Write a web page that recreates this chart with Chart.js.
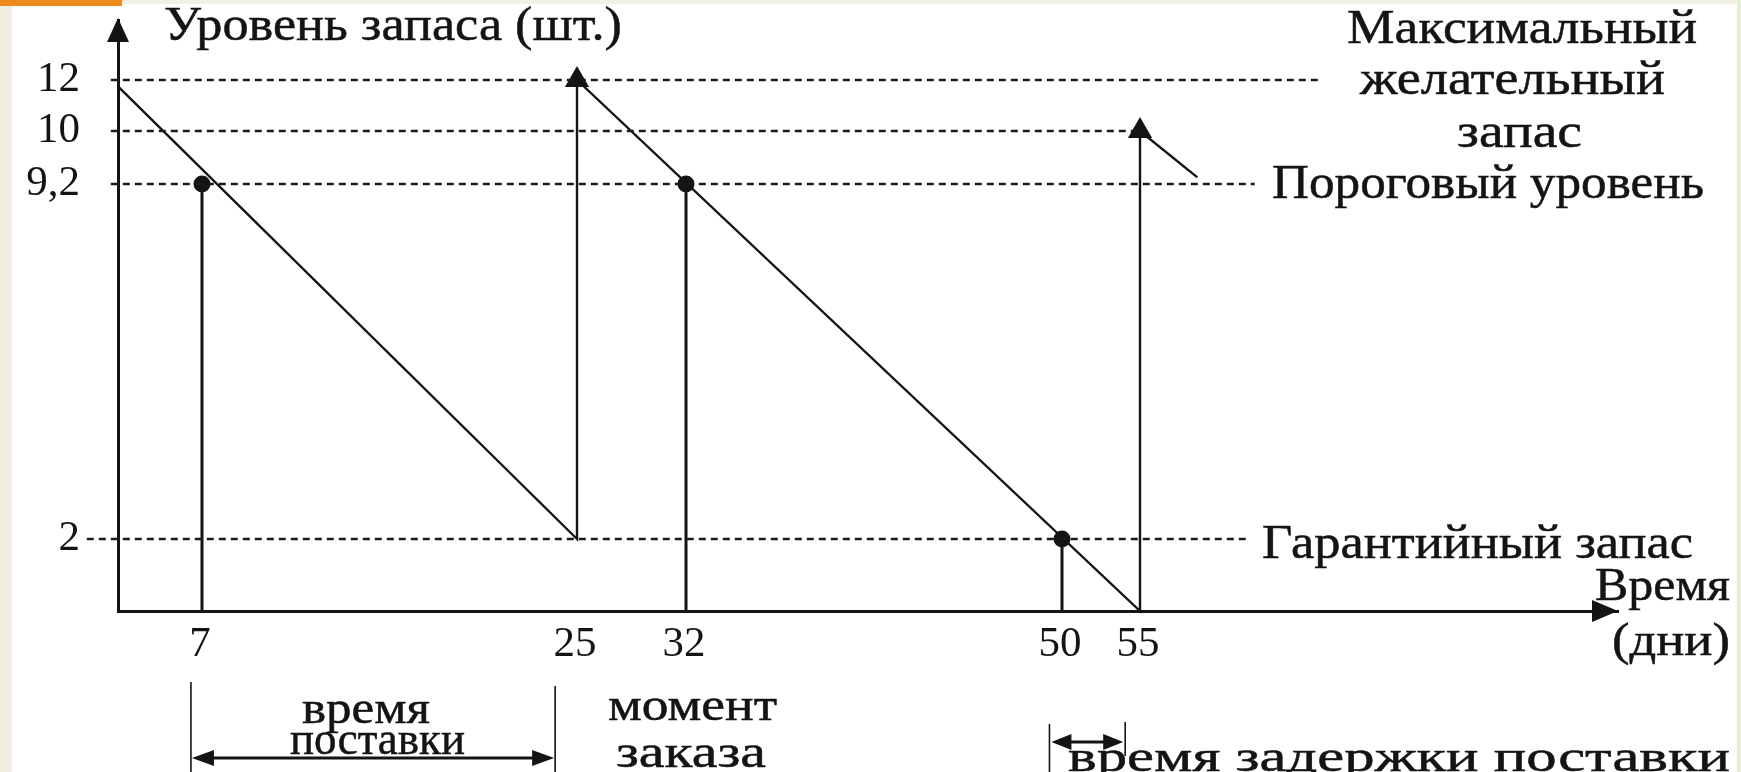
<!DOCTYPE html>
<html><head><meta charset="utf-8">
<script src="https://cdn.jsdelivr.net/npm/chart.js@4.4.1/dist/chart.umd.min.js"></script>
<style>html,body{margin:0;padding:0;background:#fff;overflow:hidden}canvas{display:block}</style>
</head><body>
<canvas id="c" width="1741" height="772"></canvas>
<script>
// ---------------- data ----------------
const xTicks = [7, 25, 32, 50, 55];
const xTickLabels = ['7', '25', '32', '50', '55'];
const yTicks = [2, 9.2, 10, 12];
const yTickLabels = ['2', '9,2', '10', '12'];

// inventory level over time (day, pieces)
const stockDays   = [0, 25, 25, 55, 55, 57.4];
const stockLevels = [11.75, 2, 12, 0, 10, 9.3];

// delivery moments (arrow heads)
const deliveryDays   = [25, 55];
const deliveryLevels = [12, 10];

// marked moments (dots with drop lines)
const markDays   = [7, 32, 50];
const markLevels = [9.2, 9.2, 2];

// reference levels (dashed lines) and their extent in days
const refLevels   = [12, 10, 9.2, 2];
const refFromDays = [-0.6, -0.6, -0.6, -2.6];
const refToDays   = [62.6, 55, 59.8, 59.6];

// spans drawn under the time axis (days)
const leadSpan  = [6.08, 23.95];
const delaySpan = [49.4, 54.05];

// texts
const yTitle = 'Уровень запаса (шт.)';
const xTitle = ['Время', '(дни)'];
const levelNames = ['Максимальный', 'желательный', 'запас', 'Пороговый уровень', 'Гарантийный запас'];
const spanNames = ['время', 'поставки', 'момент', 'заказа', 'время задержки поставки'];

// ---------------- layout (not data) ----------------
// the drawing is not to scale: axis positions of the tick values
const AXIS_WARP = {
  x: { v: [0, 7, 25, 32, 50, 55, 75], p: [0, 84, 459, 568, 944, 1022, 1500] },
  y: { v: [0, 2, 9.2, 10, 12, 14.35], p: [0, 72, 427, 480, 531, 591] }
};
const TEXT_LAYOUT = [
  // text, left, centerY, size, width
  [yTitle, 164, 27, 48, 458],
  [levelNames[0], 1347, 30, 48, 350],
  [levelNames[1], 1360, 81, 48, 305],
  [levelNames[2], 1457, 134, 48, 125],
  [levelNames[3], 1272, 185, 48, 432],
  [levelNames[4], 1262, 545, 48, 431],
  [xTitle[0], 1595, 588, 46, 135],
  [xTitle[1], 1612, 643, 46, 118],
  [spanNames[0], 302, 711, 46, 128],
  [spanNames[1], 290, 742, 46, 175],
  [spanNames[2], 608, 708, 46, 169],
  [spanNames[3], 616, 755, 46, 150],
  [spanNames[4], 1068, 759, 44, 662]
];
const INK = '#141414';

function warp(axis, v) {
  const w = AXIS_WARP[axis], a = w.v, b = w.p, n = a.length;
  let i = 0;
  if (v <= a[0]) i = 0;
  else if (v >= a[n - 1]) i = n - 2;
  else { while (i < n - 2 && v > a[i + 1]) i++; }
  return b[i] + (v - a[i]) * (b[i + 1] - b[i]) / (a[i + 1] - a[i]);
}
function unwarp(axis, p) {
  const w = AXIS_WARP[axis], a = w.p, b = w.v, n = a.length;
  let i = 0;
  if (p <= a[0]) i = 0;
  else if (p >= a[n - 1]) i = n - 2;
  else { while (i < n - 2 && p > a[i + 1]) i++; }
  return b[i] + (p - a[i]) * (b[i + 1] - b[i]) / (a[i + 1] - a[i]);
}

class WarpScale extends Chart.LinearScale {
  getPixelForValue(value) { return super.getPixelForValue(warp(this.axis, value)); }
  getValueForPixel(pixel) { return unwarp(this.axis, super.getValueForPixel(pixel)); }
}
WarpScale.id = 'warp';
WarpScale.defaults = Chart.LinearScale.defaults;
Chart.register(WarpScale);

const pts = (xs, ys) => xs.map((x, i) => ({ x, y: ys[i] }));

const datasets = [];
refLevels.forEach((lv, i) => datasets.push({
  data: [{ x: refFromDays[i], y: lv }, { x: refToDays[i], y: lv }],
  showLine: true, borderColor: '#1a1a1a', borderWidth: 2.6, borderDash: [7, 5],
  pointRadius: 0, clip: false
}));
datasets.push({
  data: pts(stockDays, stockLevels), showLine: true, borderColor: INK, borderWidth: 2.4,
  pointRadius: 0, clip: false
});
markDays.forEach((d, i) => datasets.push({
  data: [{ x: d, y: 0 }, { x: d, y: markLevels[i] }], showLine: true,
  borderColor: INK, borderWidth: 3, pointRadius: 0, clip: false
}));
datasets.push({
  data: pts(markDays, markLevels), showLine: false, pointStyle: 'circle',
  pointRadius: 8.5, backgroundColor: INK, borderColor: INK, borderWidth: 0, clip: false
});
datasets.push({
  data: pts(deliveryDays, deliveryLevels), showLine: false, pointStyle: 'triangle',
  pointRadius: 14, backgroundColor: INK, borderColor: INK, borderWidth: 0, clip: false
});

function filledArrow(ctx, tipX, tipY, dirX, dirY, len, half) {
  const bx = tipX - dirX * len, by = tipY - dirY * len;
  const nx = -dirY, ny = dirX;
  ctx.beginPath();
  ctx.moveTo(tipX, tipY);
  ctx.lineTo(bx + nx * half, by + ny * half);
  ctx.lineTo(bx - nx * half, by - ny * half);
  ctx.closePath();
  ctx.fill();
}

function drawStretched(ctx, text, left, cy, size, width) {
  ctx.font = size + 'px "Liberation Serif", "Times New Roman", serif';
  const w = ctx.measureText(text).width;
  ctx.save();
  ctx.translate(left, cy);
  ctx.scale(width / w, 1);
  ctx.textBaseline = 'middle';
  ctx.textAlign = 'left';
  ctx.fillStyle = INK;
  ctx.strokeStyle = INK;
  ctx.lineWidth = 0.5;
  ctx.fillText(text, 0, 0);
  ctx.strokeText(text, 0, 0);
  ctx.restore();
}

const decor = {
  id: 'decor',
  beforeDraw(chart) {
    const ctx = chart.ctx, W = chart.width, H = chart.height;
    ctx.save();
    ctx.fillStyle = '#ffffff'; ctx.fillRect(0, 0, W, H);
    ctx.fillStyle = '#f3f1e4'; ctx.fillRect(0, 0, W, 4);
    ctx.fillStyle = '#eeede0'; ctx.fillRect(0, 0, 12, H);
    ctx.fillStyle = '#e6eed8'; ctx.fillRect(W - 4, 0, 4, H);
    ctx.fillStyle = '#ec8a1e'; ctx.fillRect(0, 0, 122, 6);
    ctx.restore();
  },
  afterDraw(chart) {
    const ctx = chart.ctx, a = chart.chartArea, xs = chart.scales.x;
    ctx.save();
    ctx.fillStyle = INK; ctx.strokeStyle = INK;
    // axis arrow heads
    filledArrow(ctx, a.left, a.top - 2, 0, -1, 24, 11);
    filledArrow(ctx, a.right, a.bottom, 1, 0, 26, 11);
    // lead time span
    const l0 = xs.getPixelForValue(leadSpan[0]), l1 = xs.getPixelForValue(leadSpan[1]);
    ctx.lineWidth = 1.6;
    ctx.beginPath(); ctx.moveTo(l0, 682); ctx.lineTo(l0, 772); ctx.moveTo(l1, 686); ctx.lineTo(l1, 772); ctx.stroke();
    ctx.lineWidth = 3;
    ctx.beginPath(); ctx.moveTo(l0 + 10, 758); ctx.lineTo(l1 - 10, 758); ctx.stroke();
    filledArrow(ctx, l0 + 1, 758, -1, 0, 22, 8);
    filledArrow(ctx, l1 - 1, 758, 1, 0, 22, 8);
    // delay span
    const d0 = xs.getPixelForValue(delaySpan[0]), d1 = xs.getPixelForValue(delaySpan[1]);
    ctx.lineWidth = 1.6;
    ctx.beginPath(); ctx.moveTo(d0, 724); ctx.lineTo(d0, 772); ctx.moveTo(d1, 722); ctx.lineTo(d1, 756); ctx.stroke();
    ctx.lineWidth = 3;
    ctx.beginPath(); ctx.moveTo(d0 + 10, 742); ctx.lineTo(d1 - 10, 742); ctx.stroke();
    filledArrow(ctx, d0 + 2, 742, -1, 0, 20, 8);
    filledArrow(ctx, d1 - 2, 742, 1, 0, 20, 8);
    ctx.restore();
    TEXT_LAYOUT.forEach(t => drawStretched(ctx, t[0], t[1], t[2], t[3], t[4]));
  }
};

const tickFont = { family: '"Liberation Serif", "Times New Roman", serif', size: 43, lineHeight: 1.2 };
const noPad = s => { s.paddingTop = 0; s.paddingBottom = 0; s.paddingLeft = 0; s.paddingRight = 0; };

new Chart(document.getElementById('c'), {
  type: 'scatter',
  data: { datasets },
  options: {
    responsive: false, animation: false, events: [], devicePixelRatio: 1,
    layout: { padding: { top: 20, right: 123, left: 0, bottom: 0 } },
    plugins: { legend: { display: false }, tooltip: { enabled: false }, title: { display: false } },
    scales: {
      x: {
        type: 'warp', position: 'bottom', min: 0, max: 1500,
        afterFit: s => { s.height = 161; noPad(s); },
        afterBuildTicks: s => { s.ticks = xTicks.map(v => ({ value: v })); },
        grid: { display: true, drawOnChartArea: false, drawTicks: false, color: 'rgba(0,0,0,0)' },
        border: { display: true, color: INK, width: 3 },
        ticks: { autoSkip: false, maxRotation: 0, padding: 8, labelOffset: -2, color: INK, font: tickFont,
                 callback: (v, i) => xTickLabels[i] }
      },
      y: {
        type: 'warp', position: 'left', min: 0, max: 591,
        afterFit: s => { s.width = 118; noPad(s); },
        afterBuildTicks: s => { s.ticks = yTicks.map(v => ({ value: v })); },
        grid: { display: true, drawOnChartArea: false, drawTicks: false, color: 'rgba(0,0,0,0)' },
        border: { display: true, color: INK, width: 3 },
        ticks: { autoSkip: false, padding: 38, color: INK, font: tickFont,
                 callback: (v, i) => yTickLabels[i] }
      }
    }
  },
  plugins: [decor]
});
</script>
</body></html>
